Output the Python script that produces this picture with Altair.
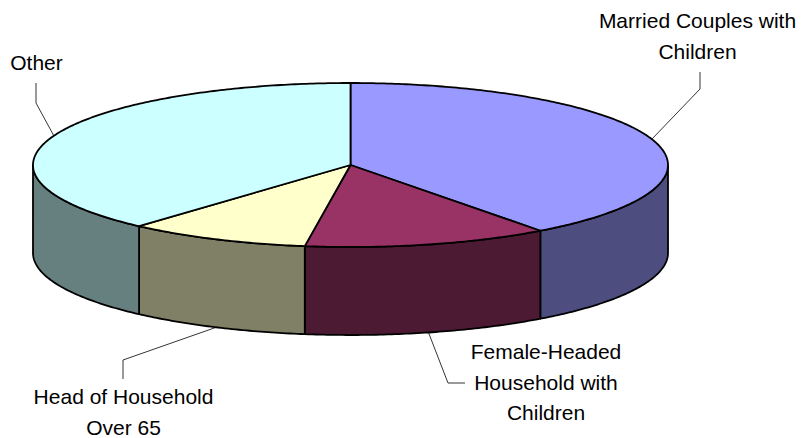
import numpy as np
import pandas as pd
import altair as alt

categories = ["Married Couples with Children", "Female-Headed Household with Children",
              "Head of Household Over 65", "Other"]
shares = [39.8, 12.5, 9.3, 38.4]
top_colors = ["#9999FF", "#993366", "#FFFFCC", "#CCFFFF"]
side_colors = ["#4D4D80", "#4D1A33", "#808066", "#668080"]
label_lines = [["Married Couples with", "Children"], ["Female-Headed", "Household with", "Children"],
               ["Head of Household", "Over 65"], ["Other"]]

# pie layout, page pixels
CX, CY, RX, RY, DEPTH = 350.5, 165.0, 317.5, 82.0, 88.0
W, H = 789, 430
FS = 21
LH = 30.5


def pt(angle, drop=0.0):
    a = np.radians(angle)
    return CX + RX * np.sin(a), CY - RY * np.cos(a) + drop


def arc(a0, a1, drop=0.0):
    n = max(2, int(abs(a1 - a0) * 1.5))
    return [pt(a, drop) for a in np.linspace(a0, a1, n)]


edges = np.concatenate([[0], np.cumsum(shares)]) / sum(shares) * 360
rows = []


def add(name, pts, color):
    pts = list(pts) + [pts[0]]
    for i, (x, y) in enumerate(pts):
        rows.append({"part": name, "i": i, "x": x, "y": y, "color": color})


# visible walls (front half of the drum), then the top sectors
for k, cat in enumerate(categories):
    a0, a1 = max(edges[k], 90), min(edges[k + 1], 270)
    if a1 > a0:
        add("wall " + cat, arc(a0, a1) + arc(a1, a0, DEPTH), side_colors[k])
for k, cat in enumerate(categories):
    add("top " + cat, [(CX, CY)] + arc(edges[k], edges[k + 1]), top_colors[k])

shapes = pd.DataFrame(rows)

x_scale = alt.Scale(domain=[8, 8 + W], range=[0, W])
y_scale = alt.Scale(domain=[8, 8 + H], range=[0, H])
X = alt.X("x:Q", scale=x_scale, axis=None)
Y = alt.Y("y:Q", scale=y_scale, axis=None)

pie = alt.Chart(shapes).mark_line(stroke="black", strokeWidth=1.8, strokeJoin="round").encode(
    x=X, y=Y, order="i:Q", detail="part:N", fill=alt.Fill("color:N", scale=None))

# leader lines start at each slice's mid-angle on the rim
elbows = [[(700, 89), (700, 72)], [(448, 383), (465, 383)], [(123, 360), (123, 379)], [(36, 103), (36, 83)]]
mids = (edges[:-1] + edges[1:]) / 2
lead = []
for k, cat in enumerate(categories):
    drop = DEPTH if 90 < mids[k] < 270 else 0.0
    for i, (x, y) in enumerate([pt(mids[k], drop)] + elbows[k]):
        lead.append({"cat": cat, "i": i, "x": x, "y": y})
leaders = alt.Chart(pd.DataFrame(lead)).mark_line(stroke="black", strokeWidth=0.8).encode(
    x=X, y=Y, order="i:Q", detail="cat:N")

label_centers = [(697.5, 22), (546, 353), (123.5, 398), (36.5, 64)]
txt = []
for k, lines in enumerate(label_lines):
    cx, top = label_centers[k]
    for j, line in enumerate(lines):
        txt.append({"t": line, "x": cx, "y": top + j * LH})
labels = alt.Chart(pd.DataFrame(txt)).mark_text(
    font="Liberation Sans", fontSize=FS, color="black", align="center", baseline="middle"
).encode(x=X, y=Y, text="t:N")

chart = alt.layer(pie, leaders, labels).properties(
    width=W, height=H, padding=0, background="white", autosize=alt.AutoSizeParams(type="none")
).configure_view(stroke=None)

chart.save("out.html", embed_options={"renderer": "svg", "actions": False})
